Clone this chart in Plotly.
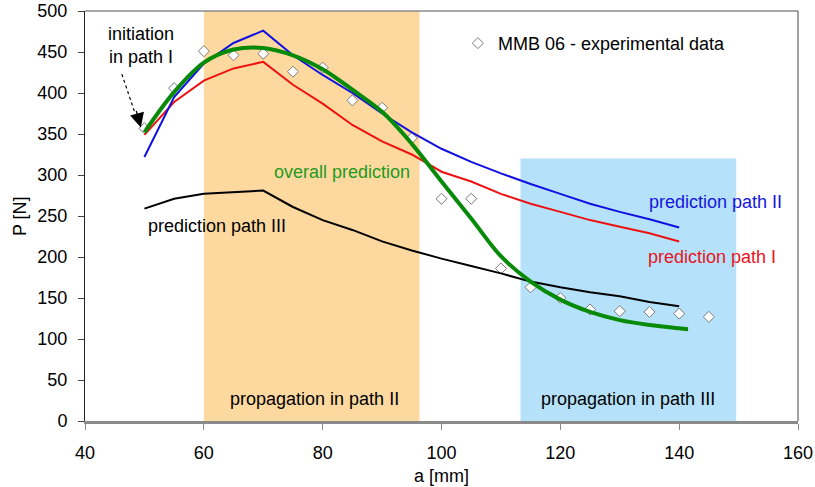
import plotly.graph_objects as go

# ---- data ----
exp_a = [50, 55, 60, 65, 70, 75, 80, 85, 90, 95, 100, 105, 110, 115, 120, 125, 130, 135, 140, 145]
exp_P = [357, 406, 451, 446, 448, 426, 431, 391, 382, 345, 271, 271, 186, 163, 150, 136, 134, 133, 131, 127]

pred_a = [50, 55, 60, 65, 70, 75, 80, 85, 90, 95, 100, 105, 110, 115, 120, 125, 130, 135, 140]
path1_P = [349, 389, 415, 430, 438, 410, 387, 361, 341, 325, 304, 292, 277, 265, 255, 245, 237, 229, 219]
path2_P = [322, 395, 436, 461, 476, 446, 422, 400, 375, 352, 332, 316, 302, 289, 277, 265, 255, 246, 236]
path3_P = [259, 271, 277, 279, 281, 261, 245, 233, 219, 208, 198, 189, 180, 170, 163, 157, 152, 145, 140]

overall_a = [50, 55, 60, 65, 70, 75, 80, 85, 90, 95, 100, 105, 110, 115, 120, 125, 130, 135, 140, 141.5]
overall_P = [352, 401, 437, 453, 455, 446, 429, 404, 377, 338, 292, 247, 201, 170, 148, 133, 123, 117, 113, 112]

band_II = [60, 96.3]
band_III = [113.3, 149.6]
band_III_top = 320

FONT = "Liberation Sans, Arial, sans-serif"

fig = go.Figure()

# shaded propagation zones
fig.add_shape(type="rect", xref="x", yref="y", x0=band_II[0], x1=band_II[1], y0=0, y1=500,
              fillcolor="#FDD9A0", line_width=0, layer="below")
fig.add_shape(type="rect", xref="x", yref="y", x0=band_III[0], x1=band_III[1], y0=0, y1=band_III_top,
              fillcolor="#B5E2FA", line_width=0, layer="below")

# experimental data
fig.add_trace(go.Scatter(x=exp_a, y=exp_P, mode="markers", name="MMB 06 - experimental data",
                         marker=dict(symbol="diamond", size=8.5, color="white",
                                     line=dict(color="#7a7a7a", width=1)),
                         showlegend=True))
fig.add_trace(go.Scatter(x=pred_a, y=path3_P, mode="lines", line=dict(color="black", width=2),
                         showlegend=False))
fig.add_trace(go.Scatter(x=pred_a, y=path1_P, mode="lines", line=dict(color="#ee1111", width=2),
                         showlegend=False))
fig.add_trace(go.Scatter(x=pred_a, y=path2_P, mode="lines", line=dict(color="#1010e0", width=2),
                         showlegend=False))
fig.add_trace(go.Scatter(x=overall_a, y=overall_P, mode="lines",
                         line=dict(color="#078a07", width=4, shape="spline", smoothing=1.0),
                         showlegend=False))

def note(text, x, y, color="black"):
    fig.add_annotation(text=text, x=x, y=y, xref="x", yref="y", showarrow=False,
                       font=dict(family=FONT, size=18, color=color), align="center")

note("initiation<br>in path I", 49.4, 458)
note("overall prediction", 83.2, 304, "#1f9a1f")
note("prediction path III", 62.2, 238)
note("prediction path II", 146.1, 267, "#1515e0")
note("prediction path I", 145.5, 200, "#e8141e")
note("propagation in path II", 78.7, 27)
note("propagation in path III", 131.4, 27)

# axis titles
fig.add_annotation(text="a [mm]", xref="paper", yref="paper", x=0.5, y=-0.134,
                   xanchor="center", yanchor="middle", showarrow=False,
                   font=dict(family=FONT, size=18, color="black"))
fig.add_annotation(text="P [N]", xref="paper", yref="paper", x=-0.091, y=0.5,
                   xanchor="center", yanchor="middle", showarrow=False, textangle=-90,
                   font=dict(family=FONT, size=18, color="black"))

# dotted arrow
fig.add_shape(type="line", xref="x", yref="y", x0=46.2, y0=423, x1=48.3, y1=378,
              line=dict(color="black", width=1.2, dash="dot"))
fig.add_annotation(x=49.4, y=358, xref="x", yref="y", text="", showarrow=True,
                   ax=-5, ay=-18, arrowhead=2, arrowsize=2.2, arrowwidth=1.3, arrowcolor="black")

# frame top / right
fig.add_shape(type="line", xref="paper", yref="paper", x0=0, x1=1, y0=1, y1=1,
              line=dict(color="#8a8a8a", width=1.5))
fig.add_shape(type="line", xref="paper", yref="paper", x0=1, x1=1, y0=0, y1=1,
              line=dict(color="#444444", width=1))

fig.update_layout(
    width=815, height=487,
    margin=dict(l=85, r=17, t=11, b=66),
    paper_bgcolor="white", plot_bgcolor="white",
    font=dict(family=FONT, size=18, color="black"),
    legend=dict(x=0.523, y=0.966, xanchor="left", yanchor="top",
                bgcolor="rgba(0,0,0,0)", font=dict(size=18)),
    xaxis=dict(range=[40, 160], dtick=20, tick0=40, showgrid=False, zeroline=False,
               showline=True, linecolor="#8a8a8a", linewidth=2.5, automargin=False,
               ticks="outside", ticklen=6, tickcolor="#8a8a8a", ticklabelstandoff=8,
               ticklabeloverflow="allow"),
    yaxis=dict(range=[0, 500], dtick=50, tick0=0, showgrid=False, zeroline=False,
               showline=True, linecolor="#222222", linewidth=1, automargin=False,
               ticks="outside", ticklen=6, tickcolor="#444444", ticklabelstandoff=7,
               ticklabeloverflow="allow"),
)

fig.write_html("out.html", config={"displayModeBar": False},
               post_script="document.body.style.margin='0';document.body.style.overflow='hidden';")
